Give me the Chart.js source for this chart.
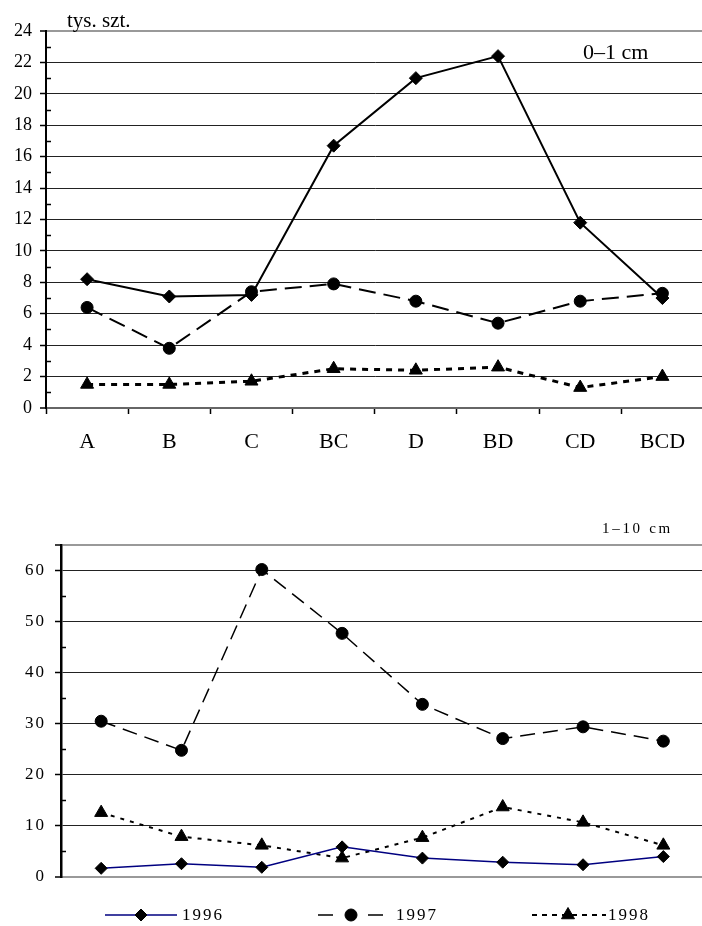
<!DOCTYPE html>
<html><head><meta charset="utf-8">
<script src="https://cdn.jsdelivr.net/npm/chart.js@4.4.1/dist/chart.umd.min.js"></script>
<style>
html,body{margin:0;padding:0;background:#fff;overflow:hidden;width:702px;height:926px}
#wrap{position:relative;width:702px;height:926px;overflow:hidden;background:#fff}
canvas{position:absolute;left:0}
#c1{top:0}
#c2{top:470px}
.lbl{position:absolute;font-family:"Liberation Serif","Times New Roman",serif;color:#000;white-space:nowrap;line-height:1}
</style></head>
<body><div id="wrap">
<canvas id="c1" width="712" height="470"></canvas>
<canvas id="c2" width="712" height="456"></canvas>
<span class="lbl" style="left:67px;top:10px;font-size:21px">tys. szt.</span>
<span class="lbl" style="left:583px;top:41px;font-size:22px">0–1 cm</span>
<span class="lbl" style="left:602px;top:521px;font-size:15px;letter-spacing:2.7px">1–10 cm</span>
</div>
<script>
// ---- data ----
const categories = ['A','B','C','BC','D','BD','CD','BCD'];
const years = ['1996','1997','1998'];
const top1996 = [8.2, 7.1, 7.2, 16.7, 21.0, 22.4, 11.8, 7.0];
const top1997 = [6.4, 3.8, 7.4, 7.9, 6.8, 5.4, 6.8, 7.3];
const top1998 = [1.5, 1.5, 1.7, 2.5, 2.4, 2.6, 1.3, 2.0];
const bot1996 = [1.7, 2.6, 1.9, 5.9, 3.7, 2.9, 2.4, 4.0];
const bot1997 = [30.5, 24.8, 60.2, 47.7, 33.8, 27.1, 29.4, 26.6];
const bot1998 = [12.6, 7.9, 6.2, 3.7, 7.7, 13.7, 10.7, 6.2];
const topYTicks = {min: 0, max: 24, step: 2, minorStep: 1};
const botYTicks = {min: 0, max: 65, step: 10, minorStep: 5};

const SERIF = '"Liberation Serif","Times New Roman",serif';

function minorTicksPlugin(cfg){
  return {
    id: 'minor',
    afterDraw(chart){
      const ctx = chart.ctx, y = chart.scales.y, left = chart.chartArea.left;
      ctx.save();
      ctx.strokeStyle = '#000'; ctx.lineWidth = 1.5;
      for (let v = cfg.min + cfg.minorStep; v < cfg.max; v += cfg.minorStep) {
        if (Math.abs(v % cfg.step) < 1e-9) continue;
        const py = Math.round(y.getPixelForValue(v)) + 0.5;
        ctx.beginPath(); ctx.moveTo(left, py); ctx.lineTo(left + 5, py); ctx.stroke();
      }
      ctx.restore();
    }
  };
}

function gridColor(maxV){
  return (c) => c.tick && c.tick.value === maxV ? '#999' : (c.tick && c.tick.value === 0 ? '#666' : '#222');
}
function gridWidth(maxV){
  return (c) => c.tick && (c.tick.value === maxV || c.tick.value === 0) ? 2 : 1;
}

// ---- top chart ----
new Chart(document.getElementById('c1'), {
  type: 'line',
  data: {
    labels: categories,
    datasets: [
      {label: years[0], data: top1996, borderColor: '#000', borderWidth: 2, pointStyle: 'rectRot', pointRadius: 6.5, pointBackgroundColor: '#000', pointBorderColor: '#000', pointBorderWidth: 1, tension: 0},
      {label: years[1], data: top1997, borderColor: '#000', borderWidth: 2, borderDash: [17, 8], pointStyle: 'circle', pointRadius: 6, pointBackgroundColor: '#000', pointBorderColor: '#000', pointBorderWidth: 1, tension: 0},
      {label: years[2], data: top1998, borderColor: '#000', borderWidth: 3, borderDash: [6, 6], pointStyle: 'triangle', pointRadius: 7.5, pointBackgroundColor: '#000', pointBorderColor: '#000', pointBorderWidth: 1, tension: 0}
    ]
  },
  options: {
    responsive: false, animation: false, devicePixelRatio: 1,
    layout: {padding: {top: 31, right: 2, left: 0, bottom: 0}},
    plugins: {legend: {display: false}, tooltip: {enabled: false}},
    scales: {
      x: {
        offset: true,
        afterFit(s){ s.height = 62; },
        grid: {display: true, drawOnChartArea: false, drawTicks: true, tickLength: 6, offset: true, color: '#000', tickColor: '#000', tickWidth: 1.5},
        border: {display: true, color: '#666', width: 2},
        ticks: {color: '#000', font: {family: SERIF, size: 22}, padding: 15, maxRotation: 0, autoSkip: false}
      },
      y: {
        min: topYTicks.min, max: topYTicks.max,
        afterFit(s){ s.width = 46; },
        grid: {color: gridColor(24), lineWidth: gridWidth(24), drawTicks: true, tickLength: 6, tickColor: '#000', tickWidth: 1.5},
        border: {display: true, color: '#000', width: 2},
        ticks: {stepSize: topYTicks.step, color: '#000', font: {family: SERIF, size: 18}, padding: 8}
      }
    }
  },
  plugins: [minorTicksPlugin(topYTicks)]
});

// ---- bottom chart ----
const legendPlugin = {
  id: 'leg',
  afterDraw(chart){
    const ctx = chart.ctx, H = Chart.helpers;
    const y = 445;
    const items = [
      {ds: chart.data.datasets[0], x0: 105, x1: 177, px: 141, tx: 182, dash: [], lw: 1.5},
      {ds: chart.data.datasets[1], x0: 318, x1: 384, px: 351, tx: 396, dash: [15, 35], lw: 1.5},
      {ds: chart.data.datasets[2], x0: 532, x1: 606, px: 568, tx: 608, dash: [5, 5], lw: 2}
    ];
    items.forEach(it => {
      ctx.save();
      ctx.strokeStyle = it.ds.borderColor; ctx.lineWidth = it.lw;
      ctx.setLineDash(it.dash);
      ctx.beginPath(); ctx.moveTo(it.x0, y); ctx.lineTo(it.x1, y); ctx.stroke();
      ctx.setLineDash([]);
      ctx.fillStyle = '#000'; ctx.strokeStyle = '#000'; ctx.lineWidth = 1;
      H.drawPoint(ctx, {pointStyle: it.ds.pointStyle, radius: it.ds.pointRadius, borderWidth: 1, rotation: 0}, it.px, y);
      ctx.letterSpacing = '2px';
      ctx.font = '17px ' + SERIF;
      ctx.fillStyle = '#000';
      ctx.textAlign = 'left'; ctx.textBaseline = 'middle';
      ctx.fillText(it.ds.label, it.tx, y + 1);
      ctx.restore();
    });
  }
};
const spacingPlugin = {
  id: 'spacing',
  beforeDraw(chart){ chart.ctx.letterSpacing = '2px'; }
};

new Chart(document.getElementById('c2'), {
  type: 'line',
  data: {
    labels: categories,
    datasets: [
      {label: years[0], data: bot1996, borderColor: '#000080', borderWidth: 1.5, pointStyle: 'rectRot', pointRadius: 6, pointBackgroundColor: '#000', pointBorderColor: '#000', pointBorderWidth: 1, tension: 0},
      {label: years[1], data: bot1997, borderColor: '#000', borderWidth: 1.5, borderDash: [15, 8], pointStyle: 'circle', pointRadius: 6, pointBackgroundColor: '#000', pointBorderColor: '#000', pointBorderWidth: 1, tension: 0},
      {label: years[2], data: bot1998, borderColor: '#000', borderWidth: 2, borderDash: [4, 6], pointStyle: 'triangle', pointRadius: 7.5, pointBackgroundColor: '#000', pointBorderColor: '#000', pointBorderWidth: 1, tension: 0}
    ]
  },
  options: {
    responsive: false, animation: false, devicePixelRatio: 1,
    layout: {padding: {top: 75, right: 2, left: 0, bottom: 0}},
    plugins: {legend: {display: false}, tooltip: {enabled: false}},
    scales: {
      x: {
        offset: true,
        afterFit(s){ s.height = 49; },
        grid: {display: false},
        border: {display: true, color: '#999', width: 2},
        ticks: {display: false}
      },
      y: {
        min: botYTicks.min, max: botYTicks.max,
        afterFit(s){ s.width = 61; },
        grid: {color: gridColor(65), lineWidth: gridWidth(65), drawTicks: true, tickLength: 6, tickColor: '#000', tickWidth: 1.5},
        border: {display: true, color: '#000', width: 2.5},
        ticks: {stepSize: botYTicks.step, color: '#000', font: {family: SERIF, size: 17}, padding: 9,
          callback: (v) => (v === 65 ? '' : v)}
      }
    }
  },
  plugins: [spacingPlugin, minorTicksPlugin(botYTicks), legendPlugin]
});
</script>
</body></html>
